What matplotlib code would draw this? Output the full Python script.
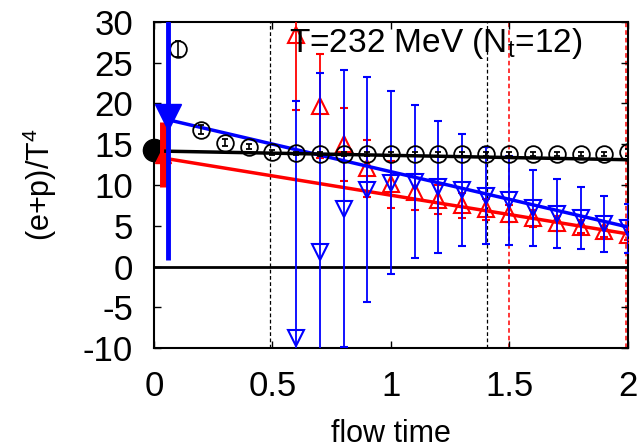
import matplotlib
matplotlib.use("Agg")
import matplotlib.pyplot as plt
import numpy as np

plt.rcParams['font.family'] = ['Liberation Sans', 'DejaVu Sans']
plt.rcParams['axes.unicode_minus'] = False

# black circles (open)
t_blk = [0.1, 0.2, 0.3, 0.4, 0.5, 0.6, 0.7, 0.8, 0.9, 1.0, 1.1, 1.2, 1.3, 1.4,
         1.5, 1.6, 1.7, 1.8, 1.9, 2.0]
y_blk = [26.7, 16.8, 15.2, 14.7, 14.0, 13.9, 13.8, 13.8, 13.8, 13.8, 13.8, 13.8,
         13.8, 13.8, 13.8, 13.8, 13.8, 13.8, 13.8, 14.0]
e_blk = [1.0, 0.6, 0.4, 0.3, 0.3, 0.2, 0.2, 0.2, 0.2, 0.2, 0.2, 0.2, 0.2, 0.2,
         0.3, 0.3, 0.3, 0.3, 0.3, 0.4]

# red up-triangles
t_red = [0.6, 0.7, 0.8, 0.9, 1.0, 1.1, 1.2, 1.3, 1.4, 1.5, 1.6, 1.7, 1.8, 1.9, 2.0]
y_red = [28.4, 19.7, 15.0, 12.05, 10.1, 9.1, 8.2, 7.5, 7.0, 6.5, 5.9, 5.3, 4.9, 4.3, 3.9]
e_red = [9.2, 6.4, 4.5, 3.5, 2.9, 2.2, 1.8, 1.5, 1.3, 1.1, 1.0, 0.9, 0.8, 0.7, 0.6]

# blue down-triangles
t_blu = [0.6, 0.7, 0.8, 0.9, 1.0, 1.1, 1.2, 1.3, 1.4, 1.5, 1.6, 1.7, 1.8, 1.9, 2.0]
y_blu = [-8.8, 1.8, 7.1, 9.4, 10.3, 10.4, 9.8, 9.4, 8.7, 8.1, 7.2, 6.5, 5.9, 5.2, 4.7]
e_blu = [29.1, 21.9, 17.0, 13.8, 11.2, 9.4, 8.1, 6.9, 6.0, 5.5, 4.7, 4.2, 3.8, 3.4, 3.0]

# extrapolated values at t -> 0
t0_blk, y0_blk = 0.0, 14.3
t0_red, y0_red, e0_red = 0.04, 13.7, 4.0
t0_blu, y0_blu, e0_blu = 0.06, 18.3, 17.5

# linear fits (end points)
fit_blk_t = [0.05, 2.0]
fit_blk_y = [14.15, 13.1]
fit_red_t = [0.04, 2.0]
fit_red_y = [13.3, 4.0]
fit_blu_t = [0.06, 2.0]
fit_blu_y = [18.0, 4.85]

vline_blk = [0.49, 1.405]
vline_red = [1.5, 1.99]

fig = plt.figure(figsize=(6.41, 4.48), dpi=100)
ax = fig.add_axes([0.2402, 0.2232, 0.7395, 0.7277])

for v in vline_blk:
    ax.axvline(v, color='black', ls='--', lw=0.9, dashes=(3, 2), zorder=1)
for v in vline_red:
    ax.axvline(v, color='red', ls='--', lw=1.1, dashes=(3, 2), zorder=1)
ax.axhline(0, color='black', lw=2, zorder=1)

# red
ax.errorbar(t_red, y_red, yerr=e_red, fmt='^', ms=12, mfc='none', mec='red',
            mew=1.5, color='red', ecolor='red', elinewidth=1.3, capsize=3, zorder=3)
ax.plot(fit_red_t, fit_red_y, color='red', lw=2.5, zorder=4)
ax.errorbar([t0_red], [y0_red], yerr=[e0_red], fmt='^', ms=12, color='red',
            elinewidth=5, capsize=0, zorder=4)

# blue
ax.errorbar(t_blu, y_blu, yerr=e_blu, fmt='v', ms=12, mfc='none', mec='blue',
            mew=1.5, color='blue', ecolor='blue', elinewidth=1.3, capsize=3, zorder=5)
ax.plot(fit_blu_t, fit_blu_y, color='blue', lw=2.5, zorder=6)

# black
ax.errorbar(t_blk, y_blk, yerr=e_blk, fmt='o', ms=12, mfc='none', mec='black',
            mew=1.3, color='black', ecolor='black', elinewidth=1.2, capsize=2.5, zorder=6)
ax.plot(fit_blk_t, fit_blk_y, color='black', lw=2.5, zorder=6)
ax.plot([t0_blk], [y0_blk], 'o', ms=16, color='black', zorder=3, clip_on=False)

ax.errorbar([t0_blu], [y0_blu], yerr=[e0_blu], fmt='v', ms=19, color='blue',
            elinewidth=3.5, capsize=0, zorder=7)

ax.text(1.19, 27.4, 'T=232 MeV (N$_\\mathregular{t}$=12)', fontsize=24,
        ha='center', va='center', zorder=8)

ax.set_xlim(0, 2)
ax.set_ylim(-10, 30)
ax.set_xticks([0, 0.5, 1, 1.5, 2])
ax.set_xticklabels(['0', '0.5', '1', '1.5', '2'])
ax.set_yticks(np.arange(-10, 31, 5))
ax.tick_params(direction='in', length=5, width=1, top=True, right=True,
               labelsize=25)
ax.tick_params(axis='x', pad=16)
ax.tick_params(axis='y', pad=15)
for s in ax.spines.values():
    s.set_linewidth(1.5)

ax.set_xlabel('flow time', fontsize=22)
ax.xaxis.set_label_coords(0.5, -0.218)
ax.set_ylabel('(e+p)/T$^\\mathregular{4}$', fontsize=22)
ax.yaxis.set_label_coords(-0.2, 0.5)

fig.savefig('out.png', dpi=100)
